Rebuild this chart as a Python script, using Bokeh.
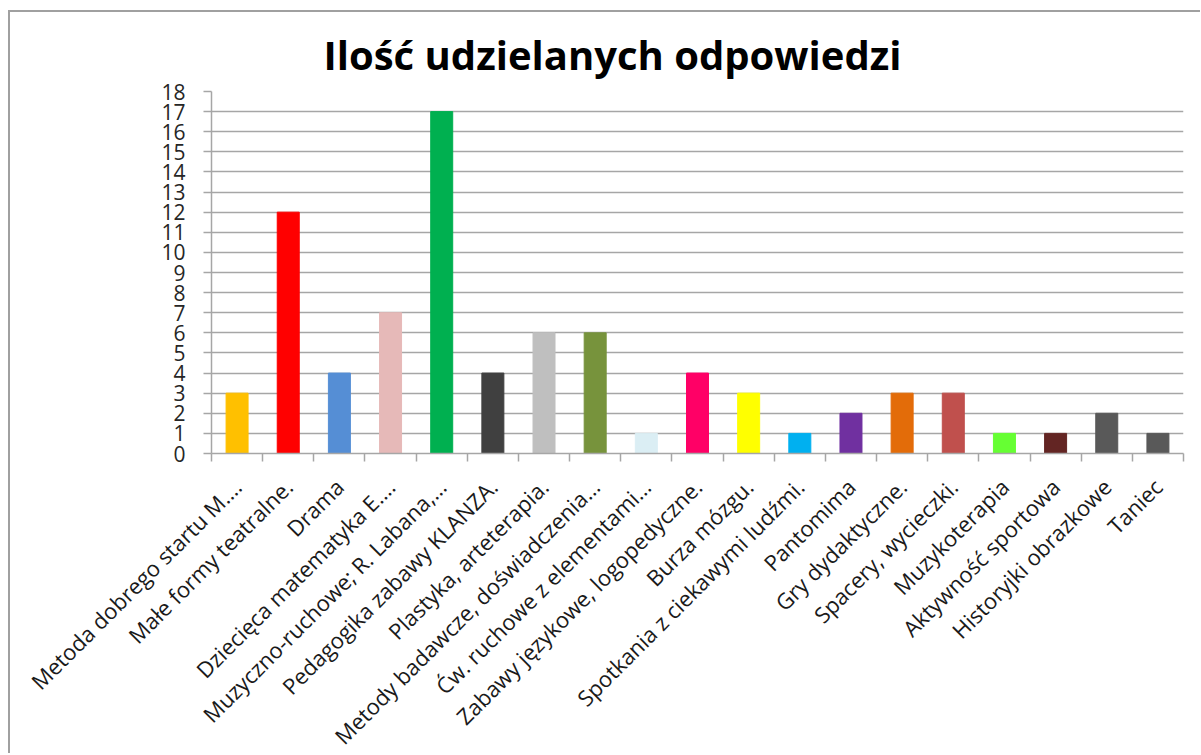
from math import pi
from bokeh.plotting import figure
from bokeh.models import FixedTicker, Range1d, ColumnDataSource
from bokeh.embed import file_html
from bokeh.resources import INLINE

title_text = "Ilość udzielanych odpowiedzi"

categories = [
    "Metoda dobrego startu M.…",
    "Małe formy teatralne.",
    "Drama",
    "Dziecięca matematyka E.…",
    "Muzyczno-ruchowe; R. Labana,…",
    "Pedagogika zabawy KLANZA.",
    "Plastyka, arteterapia.",
    "Metody badawcze, doświadczenia…",
    "Ćw. ruchowe z elementami…",
    "Zabawy językowe, logopedyczne.",
    "Burza mózgu.",
    "Spotkania z ciekawymi ludźmi.",
    "Pantomima",
    "Gry dydaktyczne.",
    "Spacery, wycieczki.",
    "Muzykoterapia",
    "Aktywność sportowa",
    "Historyjki obrazkowe",
    "Taniec",
]

values = [3, 12, 4, 7, 17, 4, 6, 6, 1, 4, 3, 1, 2, 3, 3, 1, 1, 2, 1]

colors = [
    "#FFC000", "#FF0000", "#558ED5", "#E6B9B8", "#00B050", "#404040",
    "#BFBFBF", "#77933C", "#DBEEF4", "#FF0066", "#FFFF00", "#00B0F0",
    "#7030A0", "#E36C09", "#C0504D", "#66FF33", "#632523", "#595959",
    "#595959",
]

y_ticks = list(range(0, 19))

n = len(categories)
xs = list(range(n))
src = ColumnDataSource(dict(x=xs, top=values, color=colors, name=categories))

GRID = "#a6a6a6"

p = figure(
    frame_width=972, frame_height=362,
    output_backend="svg", toolbar_location=None,
    x_range=Range1d(-0.5, n - 0.5), y_range=Range1d(0, max(y_ticks)),
    min_border_left=201, min_border_right=17, min_border_top=79, min_border_bottom=290,
)
p.styles = {
    "border-left": "2px solid #a0a0a0", "border-top": "2px solid #a0a0a0",
    "margin-left": "8px", "margin-top": "10px",
    "height": "743px", "overflow": "hidden",
}
p.outline_line_color = None
p.background_fill_color = "white"
p.border_fill_color = "white"

p.title.text = title_text
p.title.align = "left"
p.title.offset = 112
p.title.text_font = "Open Sans"
p.title.text_font_style = "bold"
p.title.text_font_size = "40px"
p.title.text_color = "black"
p.title.standoff = 20

p.vbar(x="x", top="top", width=0.43, color="color", source=src)

# x axis: labels at category centres, ticks between categories
xax = p.xaxis[0]
xax.ticker = FixedTicker(ticks=xs, minor_ticks=[i - 0.5 for i in range(n + 1)])
xax.major_label_overrides = {i: c for i, c in zip(xs, categories)}
xax.major_label_orientation = pi / 4
xax.major_tick_out = 0
xax.major_tick_in = 0
xax.minor_tick_out = 8
xax.minor_tick_in = 0
xax.minor_tick_line_color = GRID
xax.minor_tick_line_width = 1.5
xax.axis_line_color = GRID
xax.axis_line_width = 1.5
xax.major_label_text_font = "Open Sans"
xax.major_label_text_font_size = "22px"
xax.major_label_text_color = "#1a1a1a"
xax.major_label_standoff = 21

yax = p.yaxis[0]
yax.ticker = FixedTicker(ticks=y_ticks)
yax.major_tick_out = 8
yax.major_tick_in = 0
yax.minor_tick_out = 0
yax.minor_tick_in = 0
yax.major_tick_line_color = GRID
yax.major_tick_line_width = 1.5
yax.axis_line_color = GRID
yax.axis_line_width = 1.5
yax.major_label_text_font = "Open Sans"
yax.major_label_text_font_size = "21px"
yax.major_label_text_color = "#262626"
yax.major_label_standoff = 18

p.xgrid.visible = False
p.ygrid.ticker = FixedTicker(ticks=y_ticks)
p.ygrid.grid_line_color = GRID
p.ygrid.grid_line_width = 1.5

open("out.html", "w").write(file_html(p, INLINE))
